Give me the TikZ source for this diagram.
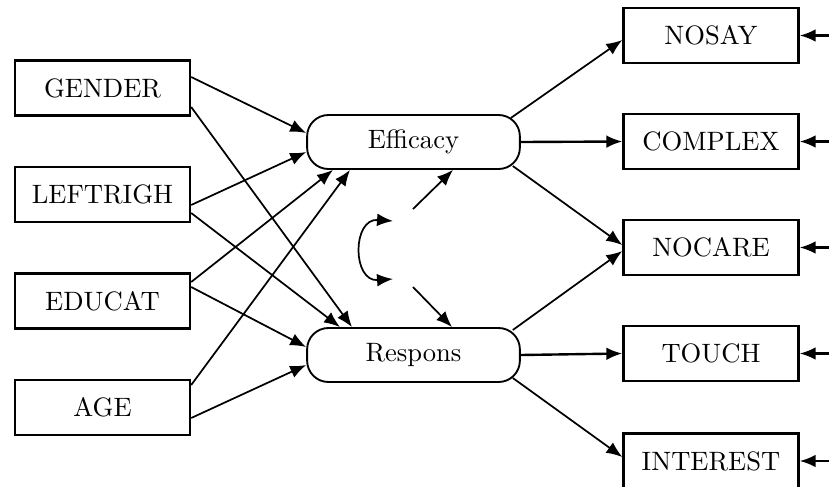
\documentclass[tikz,border=0pt]{standalone}
\usetikzlibrary{arrows.meta,calc}
\tikzset{
  obs/.style={draw,line width=0.9pt,minimum width=65.8pt,minimum height=20.7pt,inner sep=0pt},
  lat/.style={draw,line width=0.7pt,rounded corners=8pt,minimum width=80pt,minimum height=20.3pt,inner sep=0pt},
  path/.style={line width=0.65pt,-{Latex[length=6pt,width=4.8pt]}},
  thickpath/.style={line width=0.9pt,-{Latex[length=6pt,width=4.8pt]}},
}
\begin{document}
\begin{tikzpicture}[x=0.376pt,y=-0.376pt]
\useasboundingbox (0,0) rectangle (829,486);

\node[obs] (gender) at (102.5,88) {GENDER};
\node[obs] (leftrigh) at (102.5,194.5) {LEFTRIGH};
\node[obs] (educat) at (102.5,301) {EDUCAT};
\node[obs] (age) at (102.5,407.5) {AGE};

\node[lat] (efficacy) at (413.5,142) {Efficacy};
\node[lat] (respons) at (413.5,355) {Respons};

\node[obs] (nosay) at (711,35.5) {NOSAY};
\node[obs] (complex) at (711,141.5) {COMPLEX};
\node[obs] (nocare) at (711,247.5) {NOCARE};
\node[obs] (touch) at (711,353.5) {TOUCH};
\node[obs] (interest) at (711,461) {INTEREST};

%regressions
\draw[path] ($(gender.east)+(0,-11)$) -- ($(efficacy.west)+(0,-9)$);
\draw[path] ($(gender.east)+(0,19)$) -- ($(respons.north)+(-61.5,0)$);
\draw[path] ($(leftrigh.east)+(0,10.5)$) -- ($(efficacy.west)+(0,10)$);
\draw[path] ($(leftrigh.east)+(0,18.5)$) -- ($(respons.north)+(-73.5,0)$);
\draw[path] ($(educat.east)+(0,-19)$) -- ($(efficacy.south)+(-80.5,0)$);
\draw[path] ($(educat.east)+(0,-14)$) -- ($(respons.west)+(0,-8)$);
\draw[path] ($(age.east)+(0,-22.5)$) -- ($(efficacy.south)+(-63.5,0)$);
\draw[path] ($(age.east)+(0,10.5)$) -- ($(respons.west)+(0,10)$);

%loadings
\draw[path] ($(efficacy.east)+(-10,-24)$) -- ($(nosay.west)+(0,4.5)$);
\draw[thickpath] (efficacy.east) -- (complex.west);
\draw[path] ($(efficacy.east)+(-8,24)$) -- ($(nocare.west)+(0,-2.5)$);
\draw[path] ($(respons.east)+(-8,-25)$) -- ($(nocare.west)+(0,3.5)$);
\draw[thickpath] (respons.east) -- (touch.west);
\draw[path] ($(respons.east)+(-8,23)$) -- ($(interest.west)+(0,-4)$);

%residuals
\foreach \v in {nosay,complex,nocare,touch,interest}
  \draw[thickpath] ($(\v.east)+(30,0)$) -- (\v.east);

%disturbances
\coordinate (zeta1) at (413,209);
\coordinate (zeta2) at (413,287);
\coordinate (cov1) at (393,221);
\coordinate (cov2) at (393,279);
\draw[path] (zeta1) -- ($(efficacy.south)+(39.5,0)$);
\draw[path] (zeta2) -- ($(respons.north)+(38.5,0)$);
\draw[line width=0.65pt,{Latex[length=6pt,width=4.8pt]}-{Latex[length=6pt,width=4.8pt]}]
  (cov1) .. controls (352,218) and (352,282) .. (cov2);
\end{tikzpicture}
\end{document}
